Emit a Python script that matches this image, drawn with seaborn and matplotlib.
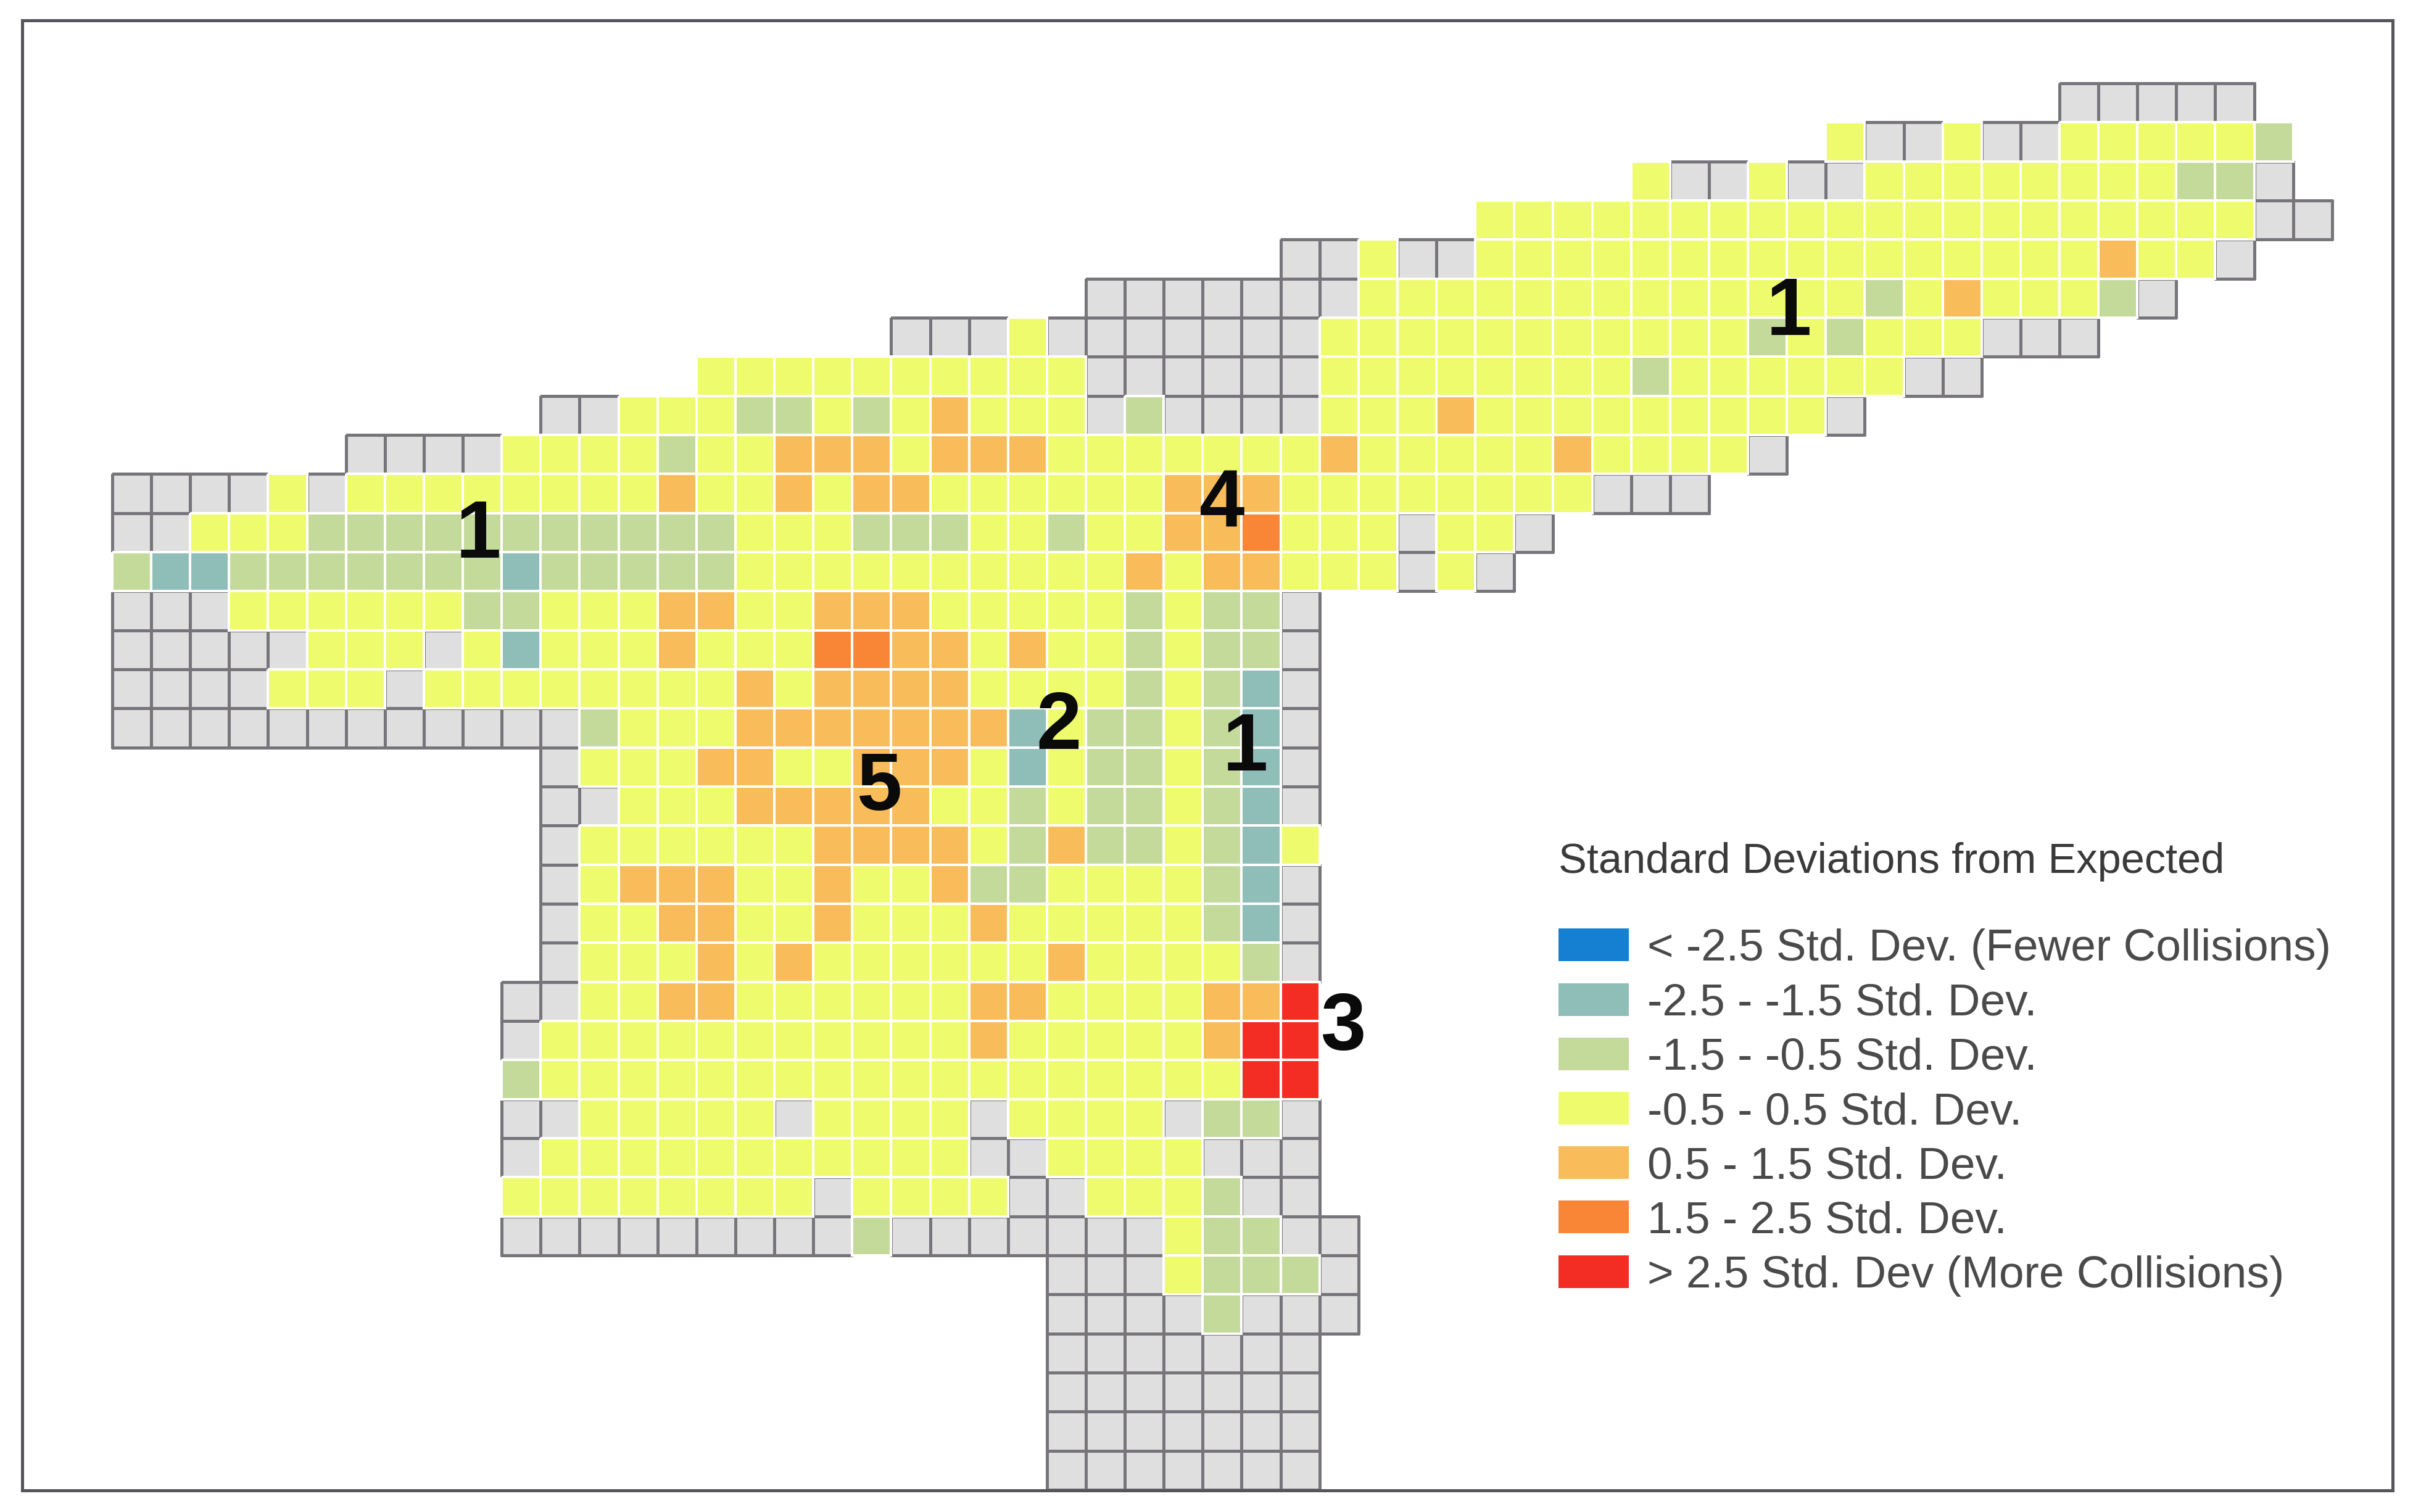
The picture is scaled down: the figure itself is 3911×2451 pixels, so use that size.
import numpy as np
import pandas as pd
import seaborn as sns
import matplotlib
matplotlib.use("Agg")
import matplotlib.pyplot as plt
from matplotlib.colors import ListedColormap, to_rgba
from matplotlib.patches import Patch, Rectangle

# '.' outside study area, 'x' no data, T/G/Y/O/D/R deviation classes
GRID_ROWS = [
    "."*50 + "x"*5 + "."*2,
    "."*44 + "YxxYxx" + "Y"*5 + "G" + "."*1,
    "."*39 + "YxxYxx" + "Y"*8 + "GGx" + "."*1,
    "."*35 + "Y"*20 + "xx",
    "."*30 + "xxYxx" + "Y"*16 + "OYYx" + "."*2,
    "."*25 + "x"*7 + "Y"*13 + "GYO" + "YYY" + "Gx" + "."*4,
    "."*20 + "xxxYx" + "x"*6 + "Y"*11 + "GYG" + "YYY" + "xxx" + "."*6,
    "."*15 + "Y"*10 + "x"*6 + "Y"*8 + "G" + "Y"*6 + "xx" + "."*9,
    "."*11 + "xxYYYGGYGYOYYYxGxxxx" + "YYYO" + "Y"*9 + "x" + "."*12,
    "."*6 + "xxxxYYYYGYYOOOYOOO" + "Y"*7 + "O" + "Y"*5 + "O" + "Y"*4 + "x" + "."*14,
    "xxxxYx" + "Y"*8 + "OYYOYOO" + "Y"*6 + "OOO" + "Y"*8 + "xxx" + "."*16,
    "xxYYY" + "G"*11 + "YYYGGGYYGYYOOD" + "YYYxYYx" + "."*20,
    "GTT" + "G"*7 + "T" + "G"*5 + "Y"*10 + "OYOO" + "YYYxYx" + "."*21,
    "xxx" + "Y"*6 + "GGYYYOOYYOOO" + "Y"*5 + "GYGGx" + "."*26,
    "xxxxxYYYxYTYYYOYYYDDOOYOYYGYGGx" + "."*26,
    "xxxxYYYx" + "Y"*8 + "OYOOOO" + "Y"*4 + "GYGTx" + "."*26,
    "x"*12 + "GYYY" + "O"*7 + "TYGGYGTx" + "."*26,
    "."*11 + "xYYYOOYYOOOYTYGGYGTx" + "."*26,
    "."*11 + "xxYYY" + "O"*5 + "YYGYGGYGTx" + "."*26,
    "."*11 + "x" + "Y"*6 + "OOOOYGOGGYGTY" + "."*26,
    "."*11 + "xYOOOYYOYYOGGYYYYGTx" + "."*26,
    "."*11 + "xYYOOYYOYYYO" + "Y"*5 + "GTx" + "."*26,
    "."*11 + "xYYYOYO" + "Y"*6 + "O" + "Y"*4 + "Gx" + "."*26,
    "."*10 + "xxYYOO" + "Y"*6 + "OO" + "Y"*4 + "OOR" + "."*26,
    "."*10 + "x" + "Y"*11 + "O" + "Y"*5 + "ORR" + "."*26,
    "."*10 + "G" + "Y"*18 + "RR" + "."*26,
    "."*10 + "xx" + "Y"*5 + "xYYYYx" + "YYYY" + "xGGx" + "."*26,
    "."*10 + "x" + "Y"*11 + "xx" + "YYYY" + "xxx" + "."*26,
    "."*10 + "Y"*8 + "xYYYYxxYYYGxx" + "."*26,
    "."*10 + "x"*9 + "G" + "x"*7 + "YGGxx" + "."*25,
    "."*24 + "xxxYGGGx" + "."*25,
    "."*24 + "xxxxGxxx" + "."*25,
    "."*24 + "x"*7 + "."*26,
    "."*24 + "x"*7 + "."*26,
    "."*24 + "x"*7 + "."*26,
    "."*24 + "x"*7 + "."*26,
]
CLASS_CODES = {"T": -2, "G": -1, "Y": 0, "O": 1, "D": 2, "R": 3}
LEGEND_TITLE = "Standard Deviations from Expected"
LEGEND_LABELS = [
    "< -2.5 Std. Dev. (Fewer Collisions)",
    "-2.5 - -1.5 Std. Dev.",
    "-1.5 - -0.5 Std. Dev.",
    "-0.5 - 0.5 Std. Dev.",
    "0.5 - 1.5 Std. Dev.",
    "1.5 - 2.5 Std. Dev.",
    "> 2.5 Std. Dev (More Collisions)",
]
LEGEND_COLORS = ["#1580D2", "#8FBDB8", "#C4DA9B", "#EEFB6C", "#F8BD5A", "#F98636", "#F32C24"]
CLASS_COLORS = LEGEND_COLORS  # codes -3 .. 3
NODATA_COLOR = "#DFDFDF"
NODATA_EDGE = "#77757A"
MARKER_TEXTS = ["1", "1", "1", "2", "3", "4", "5"]
MARKER_COLS = [9.4, 43.05, 29.1, 24.3, 31.6, 28.5, 19.7]
MARKER_ROWS = [11.6, 5.9, 17.05, 16.5, 24.2, 10.8, 18.05]

W, H = 3912, 2451
assert all(len(r) == 57 for r in GRID_ROWS), [len(r) for r in GRID_ROWS]
chars = np.array([list(r) for r in GRID_ROWS])
values = pd.DataFrame(np.vectorize(lambda c: CLASS_CODES.get(c, np.nan))(chars))
nodata = pd.DataFrame((chars == "x").astype(float))

sns.set_theme(style="white")
plt.rcParams["font.family"] = ["Liberation Sans", "DejaVu Sans"]

fig = plt.figure(figsize=(W / 100, H / 100), dpi=100, facecolor="white")
x0, x1 = 182, 182 + 57 * 63.12
y0, y1 = 135, 135 + 36 * 63.33
ax = fig.add_axes([x0 / W, 1 - y1 / H, (x1 - x0) / W, (y1 - y0) / H])


def layer(frame, hidden, cmap, vmin, vmax, lw, edge):
    """One heatmap layer whose hidden cells also lose their outline."""
    sns.heatmap(frame, mask=hidden, cmap=cmap, vmin=vmin, vmax=vmax, linewidths=lw,
                linecolor=edge, cbar=False, ax=ax, xticklabels=False, yticklabels=False)
    mesh = ax.collections[-1]
    edges = np.tile(to_rgba(edge), (hidden.size, 1))
    edges[np.asarray(hidden).ravel(), 3] = 0.0
    mesh.set_edgecolor(edges)
    mesh.set_clip_on(False)


layer(nodata, chars != "x", ListedColormap([NODATA_COLOR]), 0, 1, 2.5, NODATA_EDGE)
layer(values, values.isna().to_numpy(), ListedColormap(CLASS_COLORS), -3.5, 3.5, 2.6, "white")
ax.set_xlabel("")
ax.set_ylabel("")

for t, c, r in zip(MARKER_TEXTS, MARKER_COLS, MARKER_ROWS):
    ax.text(c, r, t, ha="center", va="center", fontsize=95, fontweight="bold",
            color="#0A0A0A", clip_on=False)

handles = [Patch(facecolor=c, edgecolor="none", label=l) for c, l in zip(LEGEND_COLORS, LEGEND_LABELS)]
leg = fig.legend(handles=handles, title=LEGEND_TITLE, loc="upper left",
                 bbox_to_anchor=(2526 / W, 1 - 1365 / H), bbox_transform=fig.transFigure,
                 frameon=False, fontsize=52.6, title_fontsize=49.4, alignment="left",
                 handlelength=1.56, handleheight=0.74, handletextpad=0.41,
                 labelspacing=0.29, borderpad=0, borderaxespad=0, labelcolor="#4A4A4A")
leg.get_title().set_color("#3A3A3A")
leg._legend_box.sep = 55

fig.add_artist(Rectangle((36 / W, 1 - 2416 / H), (3878 - 36) / W, (2416 - 33) / H,
                         transform=fig.transFigure, fill=False, edgecolor="#55555A", linewidth=3.6))

fig.savefig("out.png", dpi=100, facecolor="white")
